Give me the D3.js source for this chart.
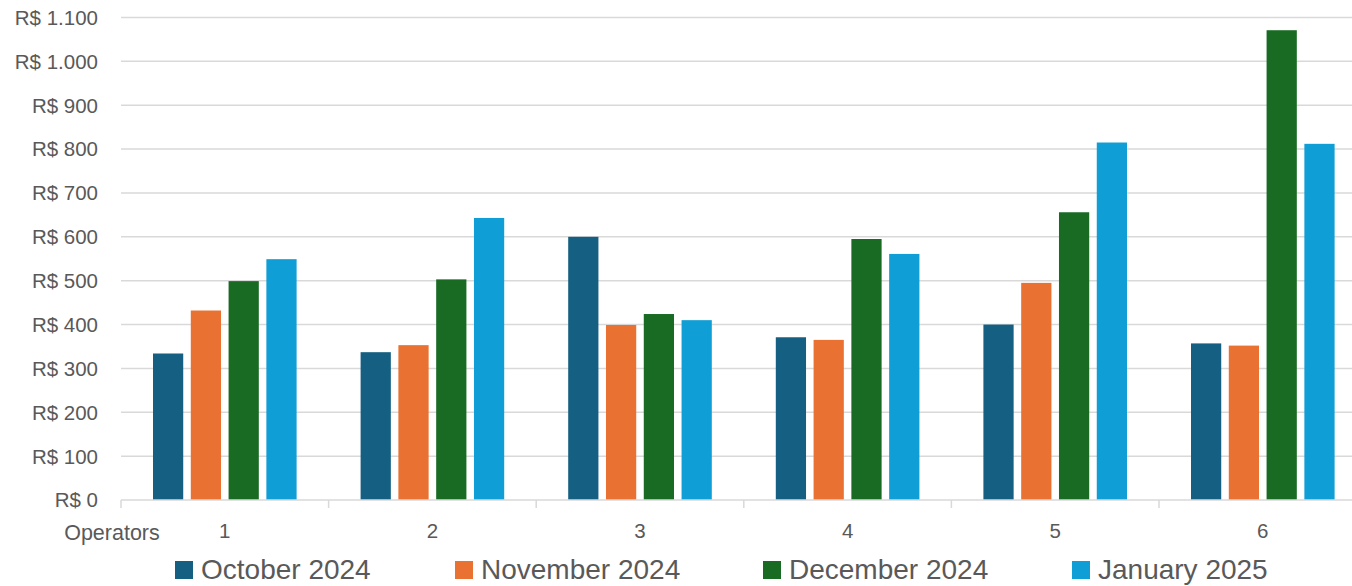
<!DOCTYPE html>
<html><head><meta charset="utf-8">
<script src="https://cdn.jsdelivr.net/npm/d3@7"></script>
<style>html,body{margin:0;padding:0;background:#fff;overflow:hidden}</style>
</head><body><svg id="c" width="1352" height="586"></svg>
<script>
const categories = ["1","2","3","4","5","6"];
const seriesNames = ["October 2024","November 2024","December 2024","January 2025"];
const oct2024 = [334, 337, 600, 371, 400, 357];
const nov2024 = [432, 353, 399, 365, 495, 352];
const dec2024 = [499, 503, 424, 595, 656, 1071];
const jan2025 = [549, 643, 410, 561, 815, 812];
const yTicks = [0,100,200,300,400,500,600,700,800,900,1000,1100];
const colors = ["#156082","#E97132","#196B24","#0F9ED5"];

(function(){
const series = [oct2024, nov2024, dec2024, jan2025];
const svg = d3.select("#c");
const font = "'Liberation Sans', Arial, sans-serif";
const plotLeft = 121, catW = 207.6, plotTop = 17.5, plotBottom = 500;

const x0 = d3.scaleBand().domain(categories).range([plotLeft, plotLeft + catW*categories.length]).padding(0);
const x1 = d3.scaleBand().domain(seriesNames).range([32, catW-32]).paddingInner(0.2);
const y = d3.scaleLinear().domain([0,1100]).range([plotBottom, plotTop]);

const fmt = v => "R$ " + d3.format(",")(v).replace(/,/g, ".");

svg.append("g").selectAll("line").data(yTicks.filter(d=>d>0)).join("line")
  .attr("x1", plotLeft).attr("x2", 1352).attr("y1", d=>y(d)).attr("y2", d=>y(d))
  .attr("stroke", "#d9d9d9").attr("stroke-width", 1.5);

svg.append("g").selectAll("text").data(yTicks).join("text")
  .attr("x", 98).attr("y", d=>y(d)).attr("dy","0.36em").attr("text-anchor","end")
  .attr("font-family", font).attr("font-size", 20.5).attr("fill","#595959")
  .text(fmt);

const g = svg.append("g");
categories.forEach((c,i)=>{
  series.forEach((s,j)=>{
    g.append("rect")
      .attr("x", x0(c)+x1(seriesNames[j])).attr("width", x1.bandwidth())
      .attr("y", y(s[i])).attr("height", y(0)-y(s[i]))
      .attr("fill", colors[j]);
  });
});

svg.append("line").attr("x1", plotLeft).attr("x2", 1352).attr("y1", plotBottom).attr("y2", plotBottom)
  .attr("stroke", "#d9d9d9").attr("stroke-width", 1.5);
svg.append("g").selectAll("line").data(d3.range(categories.length+1)).join("line")
  .attr("x1", d=>plotLeft+d*catW).attr("x2", d=>plotLeft+d*catW).attr("y1", plotBottom).attr("y2", plotBottom+8)
  .attr("stroke", "#d9d9d9").attr("stroke-width", 1.5);

svg.append("g").selectAll("text").data(categories).join("text")
  .attr("x", d=>x0(d)+x0.bandwidth()/2).attr("y", 538).attr("text-anchor","middle")
  .attr("font-family", font).attr("font-size", 20.5).attr("fill","#595959").text(d=>d);
svg.append("text").attr("x", 112).attr("y", 540).attr("text-anchor","middle")
  .attr("font-family", font).attr("font-size", 21.5).attr("fill","#595959").text("Operators");

const legX = [175, 455, 763, 1072];
const leg = svg.append("g");
seriesNames.forEach((n,j)=>{
  leg.append("rect").attr("x", legX[j]).attr("y", 561).attr("width", 18).attr("height", 18).attr("fill", colors[j]);
  leg.append("text").attr("x", legX[j]+26).attr("y", 579).attr("font-family", font)
    .attr("font-size", 28).attr("fill","#595959").text(n);
});
})();
</script></body></html>
